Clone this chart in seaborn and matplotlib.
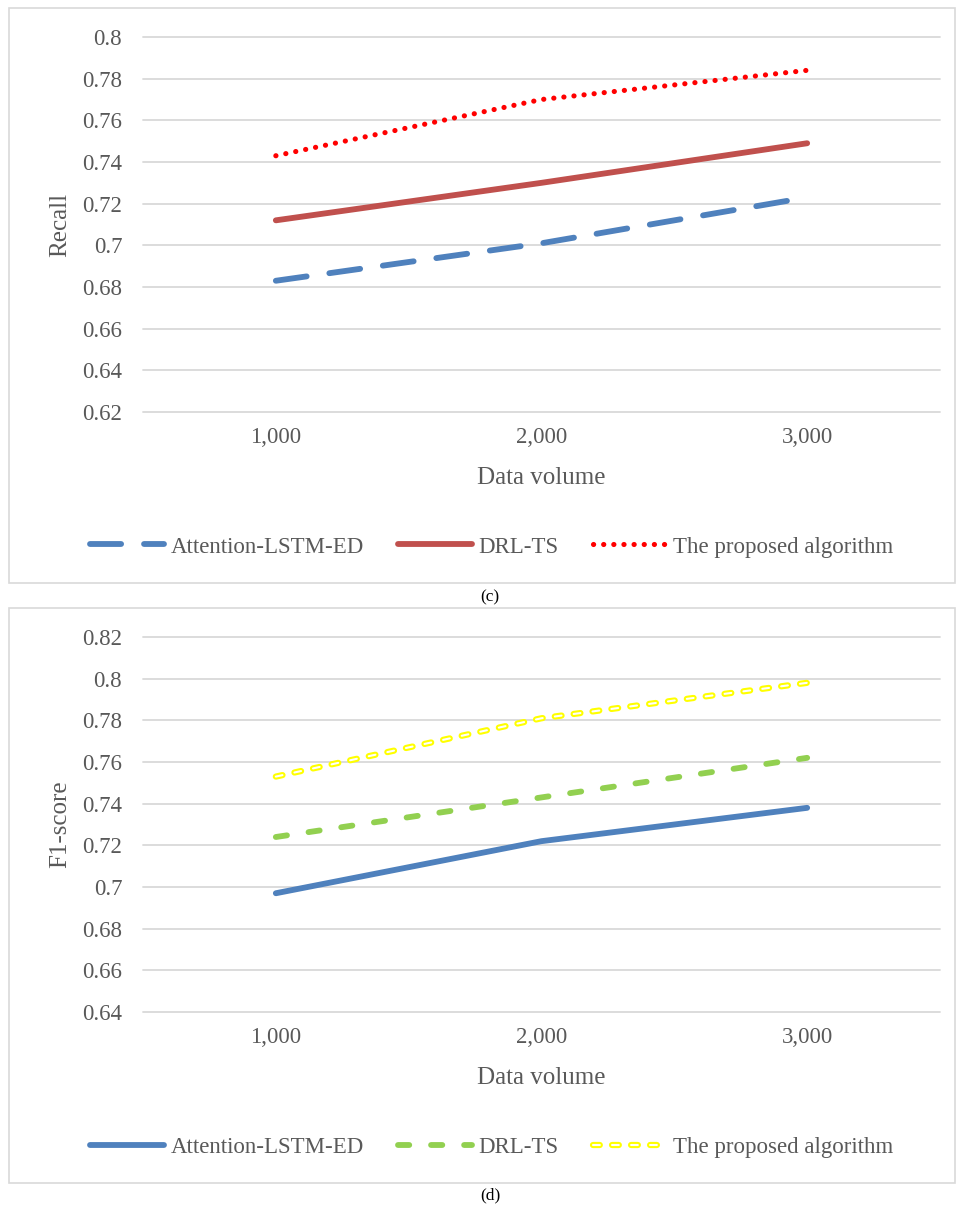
import numpy as np
import pandas as pd
import matplotlib
matplotlib.use("Agg")
import matplotlib.pyplot as plt
from matplotlib.patches import Rectangle
from matplotlib.legend_handler import HandlerTuple
import seaborn as sns

# ---------------- data ----------------
data_volume = ["1,000", "2,000", "3,000"]
series_names = ["Attention-LSTM-ED", "DRL-TS", "The proposed algorithm"]

recall_attention = [0.683, 0.701, 0.723]
recall_drlts = [0.712, 0.730, 0.749]
recall_proposed = [0.743, 0.770, 0.784]

f1_attention = [0.697, 0.722, 0.738]
f1_drlts = [0.724, 0.743, 0.762]
f1_proposed = [0.753, 0.781, 0.798]

recall_ticks = [0.62, 0.64, 0.66, 0.68, 0.70, 0.72, 0.74, 0.76, 0.78, 0.80]
f1_ticks = [0.64, 0.66, 0.68, 0.70, 0.72, 0.74, 0.76, 0.78, 0.80, 0.82]

# ---------------- style ----------------
sns.set_theme(style="white")
plt.rcParams["font.family"] = ["Liberation Serif", "DejaVu Serif"]
plt.rcParams["lines.scale_dashes"] = False

TXT = "#595959"
GRID = "#D9D9D9"
BLUE = "#4F81BD"
RED_SOLID = "#C0504D"
RED = "#FF0000"
GREEN = "#92D050"
YELLOW = "#FFFF00"

TICK_FS = 16.5
TITLE_FS = 18
LEG_FS = 16.5

W, H = 956, 1209
fig = plt.figure(figsize=(W / 100, H / 100), dpi=100)

def fx(px):
    return px / W

def fy(py):
    return 1 - py / H

# panel borders
for top, bot in [(8, 583), (608, 1183)]:
    fig.patches.append(Rectangle((fx(9), fy(bot)), fx(955) - fx(9), fy(top) - fy(bot),
                                 transform=fig.transFigure, fill=False,
                                 edgecolor=GRID, linewidth=1.2, zorder=0))

ax1 = fig.add_axes([fx(143), fy(412), fx(940) - fx(143), (412 - 37) / H])
ax2 = fig.add_axes([fx(143), fy(1012), fx(940) - fx(143), (1012 - 637) / H])


def fmt(v):
    s = f"{v:.2f}".rstrip("0").rstrip(".")
    return s


def style_axes(ax, ticks, ylabel):
    ax.set_xlim(-0.5, 2.5)
    ax.set_ylim(ticks[0], ticks[-1])
    ax.set_yticks(ticks)
    ax.set_yticklabels([fmt(t) for t in ticks])
    ax.set_xticks(range(len(data_volume)))
    ax.set_xticklabels(data_volume)
    for s in ax.spines.values():
        s.set_visible(False)
    ax.grid(axis="y", color=GRID, linewidth=1.3)
    ax.grid(axis="x", visible=False)
    for gl in ax.get_ygridlines():
        gl.set_clip_on(False)
    ax.set_axisbelow(True)
    ax.tick_params(axis="y", length=0, pad=15, labelsize=TICK_FS, labelcolor=TXT)
    ax.tick_params(axis="x", length=0, pad=11, labelsize=TICK_FS, labelcolor=TXT)
    ax.set_xlabel("Data volume", fontsize=TITLE_FS, color=TXT)
    ax.xaxis.set_label_coords(0.5, -(478 - 412) / 375)
    ax.xaxis.label.set_va("center")
    ax.set_ylabel(ylabel, fontsize=TITLE_FS, color=TXT)
    ax.yaxis.set_label_coords((60 - 143) / 797, 0.5)
    ax.yaxis.label.set_va("center")
    ax.set_facecolor("none")


def draw(ax, values, color, lw, dashes=None, cap="round"):
    df = pd.DataFrame({"Data volume": data_volume, "value": values})
    n0 = len(ax.lines)
    sns.lineplot(data=df, x="Data volume", y="value", ax=ax, color=color,
                 linewidth=lw, sort=False, legend=False)
    line = ax.lines[n0]
    if dashes is not None:
        line.set_linestyle((0, dashes))
    line.set_solid_capstyle(cap)
    line.set_dash_capstyle(cap)
    line.set_solid_joinstyle("round")
    return line


# ---------- top chart: Recall ----------
l1 = draw(ax1, recall_attention, BLUE, 4.2, dashes=(22.4, 16.5))
l2 = draw(ax1, recall_drlts, RED_SOLID, 4.2)
l3 = draw(ax1, recall_proposed, RED, 3.7, dashes=(0.1, 7.2))
style_axes(ax1, recall_ticks, "Recall")

leg1 = fig.legend([l1, l2, l3], series_names, loc="center", bbox_to_anchor=(fx(492), fy(547)),
                  ncol=3, frameon=False, fontsize=LEG_FS, handlelength=3.2, handletextpad=0.3,
                  columnspacing=1.5, labelcolor=TXT)

# ---------- bottom chart: F1-score ----------
m1 = draw(ax2, f1_attention, BLUE, 4.2)
m2 = draw(ax2, f1_drlts, GREEN, 4.2, dashes=(8.1, 15.7))
m3a = draw(ax2, f1_proposed, YELLOW, 4.5, dashes=(4.9, 8.8))
m3b = draw(ax2, f1_proposed, "white", 1.5, dashes=(4.9, 8.8))
style_axes(ax2, f1_ticks, "F1-score")

leg2 = fig.legend([m1, m2, (m3a, m3b)], series_names, loc="center",
                  bbox_to_anchor=(fx(492), fy(1147)),
                  ncol=3, frameon=False, fontsize=LEG_FS, handlelength=3.2, handletextpad=0.3,
                  columnspacing=1.5, labelcolor=TXT,
                  handler_map={tuple: HandlerTuple(ndivide=1)})

# captions
fig.text(fx(490), fy(597), "(c)", ha="center", va="center", fontsize=12.5, color="black")
fig.text(fx(490), fy(1195), "(d)", ha="center", va="center", fontsize=12.5, color="black")

fig.savefig("out.png", dpi=100, facecolor="white")
